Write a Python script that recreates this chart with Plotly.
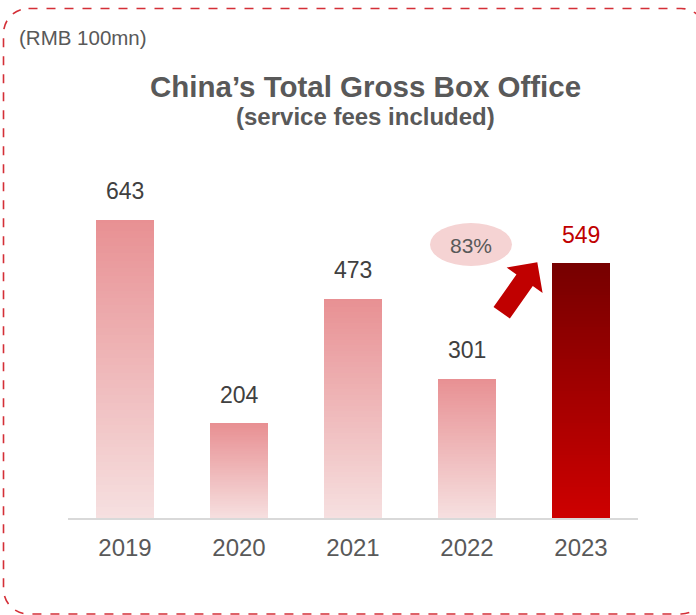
import plotly.graph_objects as go
import math

# ---- data ----
years = ["2019", "2020", "2021", "2022", "2023"]
box_office = [643, 204, 473, 301, 549]
growth_label = "83%"
unit_label = "(RMB 100mn)"
title_text = "China’s Total Gross Box Office"
subtitle_text = "(service fees included)"

# ---- style ----
W, H = 696, 615
FONT = "Arial, Liberation Sans, sans-serif"
PINK_TOP, PINK_BOT = (232, 144, 147), (246, 224, 224)
RED_TOP, RED_BOT = (118, 0, 0), (206, 0, 0)
N_SEG = 80


def px_x(x):
    return x / W


def px_y(y):
    return 1 - y / H


def mix(c1, c2, t):
    return "rgb(%d,%d,%d)" % tuple(round(a + (b - a) * t) for a, b in zip(c1, c2))


fig = go.Figure()
last = len(years) - 1
for k in range(N_SEG):
    t = (k + 0.5) / N_SEG
    cols = [mix(RED_BOT, RED_TOP, t) if i == last else mix(PINK_BOT, PINK_TOP, t)
            for i in range(len(years))]
    ext = 1.0 if k == N_SEG - 1 else 1.6
    fig.add_trace(go.Bar(
        x=years,
        y=[v / N_SEG * ext for v in box_office],
        base=[v * k / N_SEG for v in box_office],
        marker=dict(color=cols, line=dict(width=0)),
        width=0.51,
        hoverinfo="skip",
        showlegend=False,
    ))

# value labels
for i, v in enumerate(box_office):
    fig.add_annotation(
        x=i, y=v, xref="x", yref="y", text=str(v), showarrow=False,
        xanchor="center", yanchor="middle", yshift=28,
        font=dict(family=FONT, size=23, color="#c00000" if i == last else "#404040"),
    )

shapes = []
# growth bubble
shapes.append(dict(type="circle", xref="paper", yref="paper",
                   x0=px_x(430), x1=px_x(512), y0=px_y(223), y1=px_y(266),
                   fillcolor="#f5d3d3", line=dict(width=0), layer="below"))
fig.add_annotation(x=px_x(471), y=px_y(245), xref="paper", yref="paper",
                   text=growth_label, showarrow=False, xanchor="center", yanchor="middle",
                   font=dict(family=FONT, size=21, color="#595959"))

# block arrow (decoration)
T = (501.7, 312.8)
P = (537.3, 262.3)
dx, dy = P[0] - T[0], P[1] - T[1]
L = math.hypot(dx, dy)
d = (dx / L, dy / L)
n = (-d[1], d[0])
Hb = (P[0] - 22 * d[0], P[1] - 22 * d[1])


def off(pt, s):
    return (pt[0] + s * n[0], pt[1] + s * n[1])


pts = [off(T, -10), off(Hb, -10), off(Hb, -22), P, off(Hb, 22), off(Hb, 10), off(T, 10)]
path = "M " + " L ".join("%.5f,%.5f" % (px_x(a), px_y(b)) for a, b in pts) + " Z"
shapes.append(dict(type="path", xref="paper", yref="paper", path=path,
                   fillcolor="#c00000", line=dict(width=0)))

# dashed rounded border
x0, x1, y0, y1, r = 3.5, 706, 8.5, 614, 25
k = 0.5523 * r


def p(a, b):
    return "%.5f,%.5f" % (px_x(a), px_y(b))


border = ("M " + p(x0 + r, y0) + " L " + p(x1 - r, y0) +
          " C " + p(x1 - r + k, y0) + " " + p(x1, y0 + r - k) + " " + p(x1, y0 + r) +
          " L " + p(x1, y1 - r) +
          " C " + p(x1, y1 - r + k) + " " + p(x1 - r + k, y1) + " " + p(x1 - r, y1) +
          " L " + p(x0 + r, y1) +
          " C " + p(x0 + r - k, y1) + " " + p(x0, y1 - r + k) + " " + p(x0, y1 - r) +
          " L " + p(x0, y0 + r) +
          " C " + p(x0, y0 + r - k) + " " + p(x0 + r - k, y0) + " " + p(x0 + r, y0) + " Z")
shapes.append(dict(type="path", xref="paper", yref="paper", path=border,
                   line=dict(color="#d42f37", width=1.6, dash="dash")))

# titles
fig.add_annotation(x=px_x(365.5), y=px_y(86), xref="paper", yref="paper", text="<b>" + title_text + "</b>",
                   showarrow=False, xanchor="center", yanchor="middle",
                   font=dict(family=FONT, size=29.5, color="#595959"))
fig.add_annotation(x=px_x(365), y=px_y(117), xref="paper", yref="paper", text="<b>" + subtitle_text + "</b>",
                   showarrow=False, xanchor="center", yanchor="middle",
                   font=dict(family=FONT, size=24, color="#595959"))
fig.add_annotation(x=px_x(17), y=px_y(38), xref="paper", yref="paper", text=unit_label,
                   showarrow=False, xanchor="left", yanchor="middle",
                   font=dict(family=FONT, size=20.5, color="#595959"))

fig.update_layout(
    width=W, height=H,
    margin=dict(l=0, r=0, t=0, b=0),
    paper_bgcolor="white", plot_bgcolor="white",
    barmode="overlay", bargap=0,
    shapes=shapes,
    showlegend=False,
    xaxis=dict(type="category", domain=[px_x(68), px_x(638)], range=[-0.5, 4.5],
               showline=True, linecolor="#d9d9d9", linewidth=2, showgrid=False,
               zeroline=False, ticks="", ticklabelstandoff=7,
               tickfont=dict(family=FONT, size=24, color="#595959"), fixedrange=True),
    yaxis=dict(visible=False, domain=[px_y(518), px_y(192.5)], range=[0, 700],
               showgrid=False, zeroline=False, fixedrange=True),
)

fig.write_html("out.html", config={"displayModeBar": False},
               post_script="document.body.style.margin='0';")
